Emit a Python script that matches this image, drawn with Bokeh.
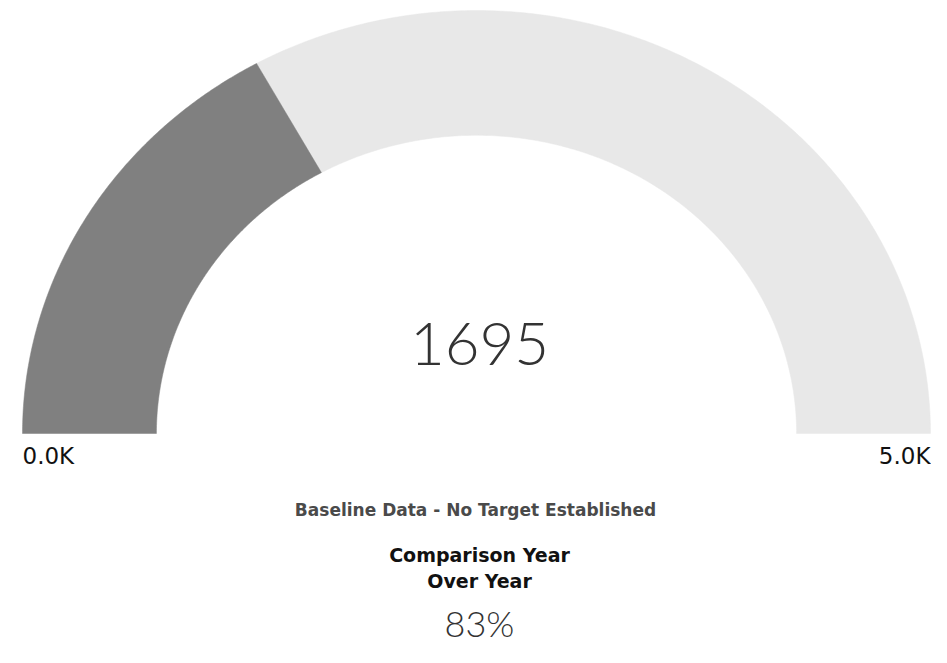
import numpy as np
from bokeh.plotting import figure
from bokeh.models import Range1d, Label, ColumnDataSource
from bokeh.embed import file_html
from bokeh.resources import INLINE

# ---- data ----
gauge_min = 0
gauge_max = 5000
gauge_value = 1695
min_label = "0.0K"
max_label = "5.0K"
subtitle = "Baseline Data - No Target Established"
comparison_lines = ["Comparison Year", "Over Year"]
comparison_value = "83%"

# ---- layout constants (pixels) ----
W, H = 931, 647
CX, CY = 476, 433          # gauge centre in canvas pixels
RX, RY = 454, 423          # outer radii in pixels
INNER = 0.705              # inner radius fraction

p = figure(width=W, height=H, output_backend="svg", toolbar_location=None,
           x_range=Range1d(-CX / RX, (W - CX) / RX),
           y_range=Range1d(-(H - CY) / RY, CY / RY),
           min_border=0)
p.axis.visible = False
p.grid.visible = False
p.outline_line_color = None
p.background_fill_color = "white"
p.border_fill_color = "white"


def band(a0, a1, n=200):
    t = np.linspace(a0, a1, n)
    xs = np.concatenate([np.cos(t), INNER * np.cos(t[::-1])])
    ys = np.concatenate([np.sin(t), INNER * np.sin(t[::-1])])
    return list(xs), list(ys)


frac = (gauge_value - gauge_min) / (gauge_max - gauge_min)
a_val = np.pi * (1 - frac)
bx, by = band(a_val, 0)
fx, fy = band(np.pi, a_val)
src = ColumnDataSource(dict(xs=[bx, fx], ys=[by, fy], color=["#E8E8E8", "#808080"]))
p.patches("xs", "ys", source=src, fill_color="color", line_color="color", line_width=0.5)


def dy(py):
    return (CY - py) / RY


def dx(px):
    return (px - CX) / RX


def lab(text, x, y, size, align="center", font="Open Sans", style="normal", color="#222222"):
    p.add_layout(Label(x=x, y=y, text=text, text_font=font, text_font_size=size,
                       text_font_style=style, text_align=align, text_baseline="alphabetic",
                       text_color=color))


lab(str(gauge_value), dx(479), dy(343), "60px", font="Lato Light", color="#333333")
lab(min_label, -1.0, dy(455), "23px", align="left", font="DejaVu Sans", color="#111111")
lab(max_label, 1.0, dy(455), "23px", align="right", font="DejaVu Sans", color="#111111")
lab(subtitle, dx(475), dy(509), "17px", font="DejaVu Sans", style="bold", color="#4a4a4a")
lab(comparison_lines[0], dx(479), dy(554), "19px", font="DejaVu Sans", style="bold", color="#111111")
lab(comparison_lines[1], dx(479), dy(580), "19px", font="DejaVu Sans", style="bold", color="#111111")
lab(comparison_value, dx(479), dy(622), "36px", font="Lato Light", color="#333333")

open("out.html", "w").write(file_html(p, INLINE))
